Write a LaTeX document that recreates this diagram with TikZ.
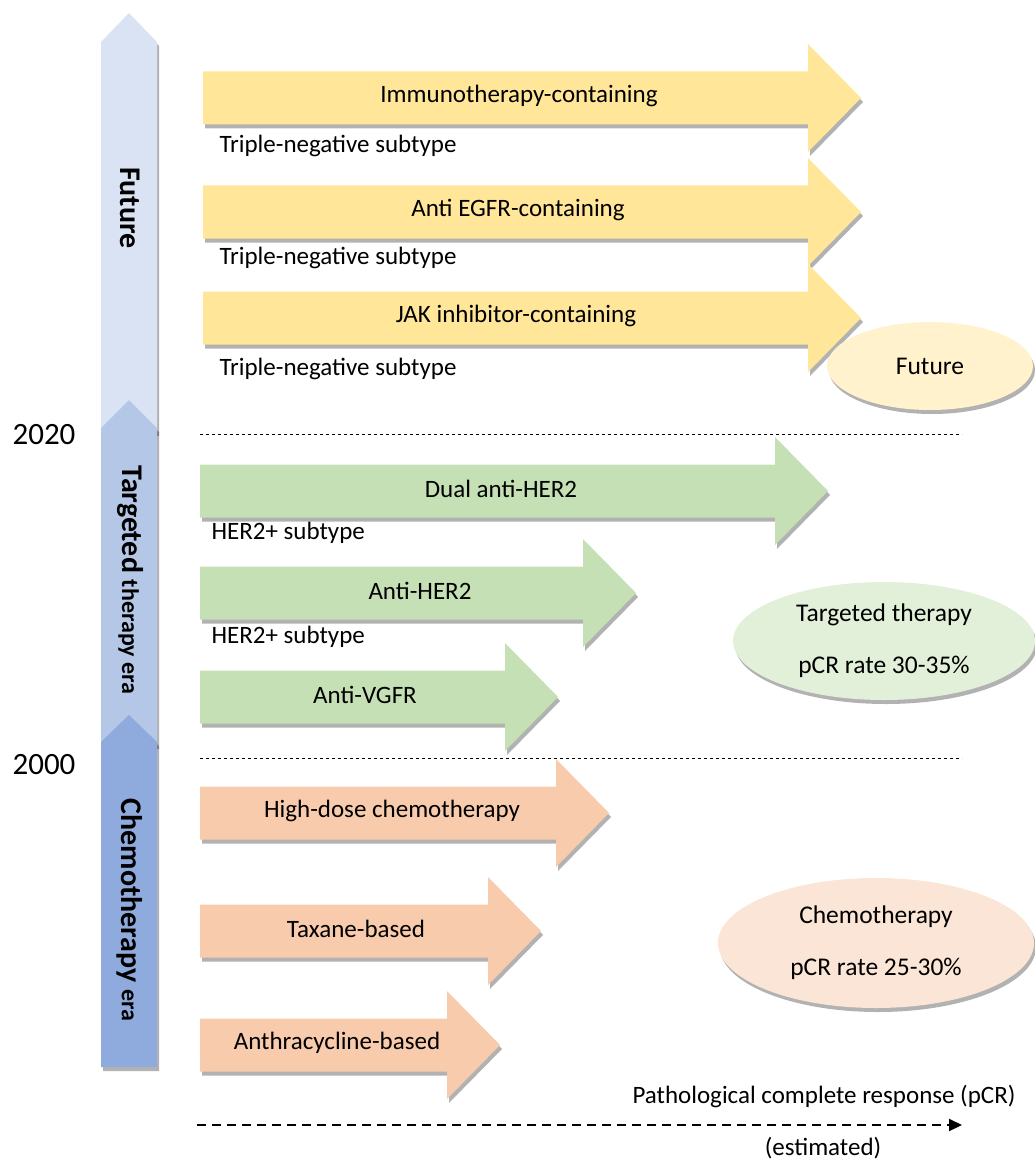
\documentclass[tikz,border=0pt]{standalone}
\usepackage{fontspec}
\setmainfont{Carlito}
\usetikzlibrary{shadows,shapes.geometric,arrows.meta}

\definecolor{futbar}{HTML}{DAE3F3}
\definecolor{tgtbar}{HTML}{B4C7E7}
\definecolor{chembar}{HTML}{8FAADC}
\definecolor{futarr}{HTML}{FFE699}
\definecolor{tgtarr}{HTML}{C5E0B4}
\definecolor{chemarr}{HTML}{F8CBAD}
\definecolor{futell}{HTML}{FFF2CC}
\definecolor{tgtell}{HTML}{E2F0D9}
\definecolor{chemell}{HTML}{FBE5D6}

\tikzset{
  dropsh/.style={drop shadow={shadow xshift=2pt, shadow yshift=-4pt, opacity=0.3, fill=black}},
  lbl/.style={font=\fontsize{25}{29}\selectfont},
  yr/.style={font=\fontsize{31}{36}\selectfont},
  eralbl/.style={rotate=-90, font=\bfseries\fontsize{30}{34}\selectfont},
  phase/.style={ellipse, dropsh, align=center, font=\fontsize{25.5}{52}\selectfont}
}

% block arrow: x start, body end, centre y, colour
\newcommand{\therapyarrow}[4]{%
  \fill[#4, dropsh] (#1,#3-26.5) -- (#2,#3-26.5) -- (#2,#3-54) -- (#2+53,#3)
    -- (#2,#3+54) -- (#2,#3+26.5) -- (#1,#3+26.5) -- cycle;}

\begin{document}
\begin{tikzpicture}[x=1pt, y=-1pt]
\useasboundingbox (0,0) rectangle (1034,1161);

% time bar
\fill[futbar, dropsh] (101,42) -- (129,13) -- (157,42) -- (157,432) -- (101,432) -- cycle;
\fill[tgtbar, dropsh] (101,428) -- (129,400) -- (157,428) -- (157,745) -- (101,745) -- cycle;
\fill[chembar, dropsh] (101,742) -- (129,715) -- (157,742) -- (157,1067) -- (101,1067) -- cycle;
\node[eralbl] (futlbl) at (130,208) {Future};
\node[eralbl] (tgtlbl) at (130,580) {Targeted {\fontsize{24}{28}\selectfont therapy era}};
\node[eralbl] (chemlbl) at (130,910) {Chemotherapy {\fontsize{24}{28}\selectfont era}};

% years
\node[yr] (y2020) at (44,435) {2020};
\node[yr] (y2000) at (44,765) {2000};

% era borders
\coordinate (bordA) at (200,434);
\coordinate (bordAend) at (962,434);
\coordinate (bordB) at (200,758);
\coordinate (bordBend) at (962,758);
\draw[dashed, line width=0.6pt] (bordA) -- (bordAend);
\draw[dashed, line width=0.6pt] (bordB) -- (bordBend);

% future
\foreach \xe/\yc/\xt/\nm/\txt in {808/98/519/immuno/Immunotherapy-containing,
    808/212/518/egfr/Anti EGFR-containing, 808/318/516/jak/JAK inhibitor-containing} {
  \therapyarrow{203}{\xe}{\yc}{futarr}
  \node[lbl] (\nm) at (\xt,\yc-2) {\txt};
}
\foreach \yl/\nm in {146/tnA, 258/tnB, 369/tnC}
  \node[lbl, anchor=west] (\nm) at (216,\yl) {Triple-negative subtype};

% targeted therapy
\foreach \xe/\yc/\xt/\nm/\txt in {775/491/501/dualher/Dual anti-HER2,
    583/593/420/antiher/Anti-HER2, 505/697/365/vgfr/Anti-VGFR} {
  \therapyarrow{200}{\xe}{\yc}{tgtarr}
  \node[lbl] (\nm) at (\xt,\yc-2) {\txt};
}
\foreach \yl/\nm in {533/herA, 637/herB}
  \node[lbl, anchor=west] (\nm) at (208,\yl) {HER2+ subtype};

% chemotherapy
\foreach \xe/\yc/\xt/\nm/\txt in {556/813/392/highdose/High-dose chemotherapy,
    488/931/356/taxane/Taxane-based, 447/1045/337/anthra/Anthracycline-based} {
  \therapyarrow{200}{\xe}{\yc}{chemarr}
  \node[lbl] (\nm) at (\xt,\yc-2) {\txt};
}

% response ovals
\node[phase, fill=futell, minimum width=206pt, minimum height=88pt] (futoval) at (930,366) {Future};
\node[phase, fill=tgtell, minimum width=302pt, minimum height=118pt] (tgtoval) at (884,641)
  {Targeted therapy\\pCR rate 30-35\%};
\node[phase, fill=chemell, minimum width=316pt, minimum height=130pt] (chemoval) at (876,943)
  {Chemotherapy\\pCR rate 25-30\%};

% pCR axis
\coordinate (pcrstart) at (197,1125);
\coordinate (pcrend) at (962,1125);
\draw[line width=2pt, dash pattern=on 9pt off 6pt, -{Triangle[length=13pt, width=12pt]}] (pcrstart) -- (pcrend);
\node[lbl] (pcr) at (824,1096) {Pathological complete response (pCR)};
\node[lbl] (est) at (823,1148) {(estimated)};
\end{tikzpicture}
\end{document}
